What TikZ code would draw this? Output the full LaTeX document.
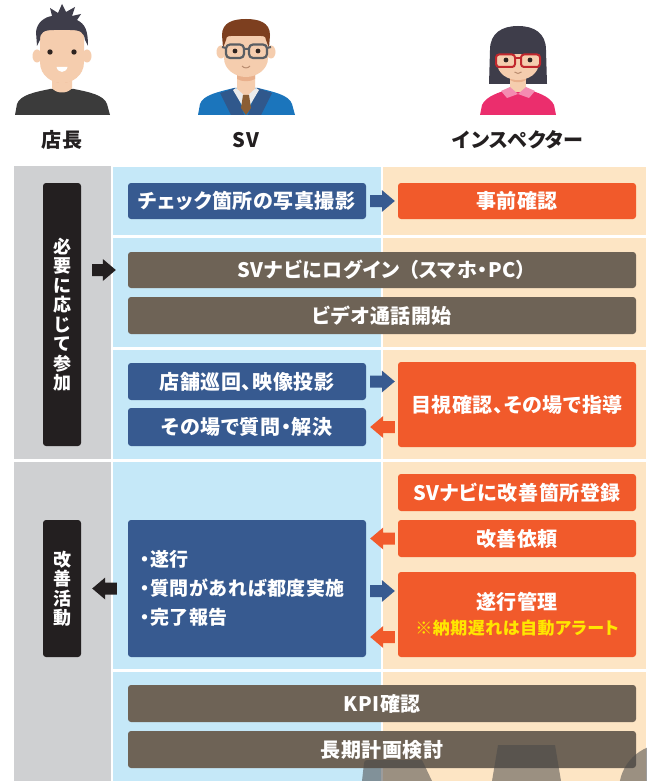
\documentclass[tikz,border=0pt]{standalone}
\usepackage{fontspec}
\setmainfont{Noto Sans CJK JP}[BoldFont={Noto Sans CJK JP Black}, RawFeature=+palt, LetterSpace=3]
\usetikzlibrary{calc}

\definecolor{colgray}{HTML}{CFD0D2}
\definecolor{colblue}{HTML}{C5E8F8}
\definecolor{colbeige}{HTML}{FDE5C4}
\definecolor{svblue}{HTML}{375A90}
\definecolor{inorange}{HTML}{F15A2B}
\definecolor{sharebrown}{HTML}{6E6356}
\definecolor{labelblack}{HTML}{231F20}
\definecolor{alertyellow}{HTML}{FFE600}
\definecolor{shadegray}{HTML}{494949}
\definecolor{skin}{HTML}{F5CDAE}
\definecolor{skinshade}{HTML}{E9B08C}
\definecolor{hairdark}{HTML}{3E3D4A}
\definecolor{hairbrown}{HTML}{7D3F1F}
\definecolor{shirtdark}{HTML}{3B3B3B}
\definecolor{suitblue}{HTML}{1B75BC}
\definecolor{lapelblue}{HTML}{30588C}
\definecolor{tiebrown}{HTML}{8B5E34}
\definecolor{framegray}{HTML}{5A5E63}
\definecolor{framered}{HTML}{C1272D}
\definecolor{blousepink}{HTML}{EB2E6D}
\definecolor{collarpink}{HTML}{F48BB1}
\definecolor{eyedark}{HTML}{2E2420}

\tikzset{
  box/.style={rounded corners=3pt, inner sep=0pt, text=white,
    font=\bfseries\fontsize{20}{22}\selectfont},
  svbox/.style={box, fill=svblue},
  inbox/.style={box, fill=inorange},
  sharebox/.style={box, fill=sharebrown},
  vlabel/.style={rounded corners=3pt, inner sep=0pt, fill=labelblack, text=white,
    minimum width=38pt, align=center, font=\bfseries\fontsize{18}{19.5}\selectfont},
  role/.style={text=labelblack, font=\bfseries\fontsize{20}{24}\selectfont},
  shade/.style={fill=shadegray, fill opacity=0.54},
}

% horizontal block arrow from #2 to #3
\newcommand\flowarrow[3]{%
  \coordinate (fa-s) at #2;
  \coordinate (fa-e) at #3;
  \coordinate (fa-h) at ($(fa-e)!13pt!(fa-s)$);
  \fill[#1] ($(fa-s)!6pt!90:(fa-e)$) -- ($(fa-h)!6pt!-90:(fa-s)$)
    -- ($(fa-h)!11pt!-90:(fa-s)$) -- (fa-e) -- ($(fa-h)!11pt!90:(fa-s)$)
    -- ($(fa-h)!6pt!90:(fa-s)$) -- ($(fa-s)!6pt!-90:(fa-e)$) -- cycle;
}

\begin{document}
\begin{tikzpicture}[x=1pt,y=-1pt]
\useasboundingbox (0,0) rectangle (646,781);
\fill[white] (0,0) rectangle (646,781);

% ---------- avatars ----------
% store manager
\fill[shirtdark] (15,115) -- (17,104) .. controls (20,95) and (35,92) .. (50,89) -- (74,89)
  .. controls (89,92) and (104,95) .. (107,104) -- (110,115) -- cycle;
\fill[skin] (52,70) -- (52,88) .. controls (56,94) and (68,94) .. (72,88) -- (72,70) -- cycle;
\fill[skinshade] (52,74) -- (52,80) .. controls (58,84) and (66,84) .. (72,80) -- (72,74) -- cycle;
\fill[skin] (37,56) ellipse (4.5 and 6.5);
\fill[skin] (87,56) ellipse (4.5 and 6.5);
\fill[skin] (40,35) -- (40,62) .. controls (40,76) and (52,83) .. (62,83)
  .. controls (72,83) and (84,76) .. (84,62) -- (84,35)
  .. controls (84,28) and (78,26) .. (62,26) .. controls (46,26) and (40,28) .. (40,35) -- cycle;
\fill[hairdark] (37,46) -- (36,32) .. controls (37,22) and (45,17) .. (52,16) -- (50,8) -- (58,13)
  -- (62,4) -- (66,12) -- (75,7) -- (72,16) -- (81,14) -- (77,20)
  .. controls (85,24) and (88,30) .. (88,46) -- (85,40) .. controls (84,32) and (80,30) .. (70,30)
  -- (54,30) .. controls (44,30) and (40,32) .. (40,40) -- cycle;
\fill[eyedark] (50,52) circle (2.7);
\fill[eyedark] (74,52) circle (2.7);
\fill[white] (56.5,67) .. controls (58,73.5) and (66,73.5) .. (67.5,67) -- cycle;

% supervisor
\fill[suitblue] (198,115) -- (200,104) .. controls (203,95) and (218,92) .. (234,88) -- (258,88)
  .. controls (274,92) and (289,95) .. (292,104) -- (295,115) -- cycle;
\fill[lapelblue] (220,93) -- (235,88) -- (244,115) -- (231,115) -- cycle;
\fill[lapelblue] (272,93) -- (257,88) -- (248,115) -- (261,115) -- cycle;
\fill[skin] (237,70) -- (237,90) -- (246,97) -- (255,90) -- (255,70) -- cycle;
\fill[skinshade] (237,72) -- (237,79) .. controls (242,82) and (250,82) .. (255,79) -- (255,72) -- cycle;
\fill[black!8] (236,88) -- (246,97) -- (256,88) -- (259,90) -- (246,112) -- (233,90) -- cycle;
\fill[tiebrown] (243,95) -- (249,95) -- (251,108) -- (246,115) -- (241,108) -- cycle;
\fill[skin] (221,52) ellipse (4.5 and 6.5);
\fill[skin] (271,52) ellipse (4.5 and 6.5);
\fill[skin] (224,38) -- (224,58) .. controls (224,70) and (236,77) .. (246,77)
  .. controls (256,77) and (268,70) .. (268,58) -- (268,38)
  .. controls (268,30) and (260,28) .. (246,28) .. controls (232,28) and (224,30) .. (224,38) -- cycle;
\fill[hairbrown] (223,48) -- (222,35) .. controls (222,22) and (234,19) .. (246,19)
  .. controls (258,19) and (270,22) .. (270,35) -- (269,48) -- (266,40)
  .. controls (266,35) and (262,36) .. (255,36) -- (237,36)
  .. controls (230,36) and (226,35) .. (226,40) -- cycle;
\draw[framegray, line width=2.2pt, rounded corners=4pt] (226,44.5) rectangle (244,58);
\draw[framegray, line width=2.2pt, rounded corners=4pt] (249,44.5) rectangle (267,58);
\draw[framegray, line width=2pt] (244,49) -- (249,49) (226,48) -- (222,47) (267,48) -- (271,47);
\fill[eyedark] (235,51) circle (2.4);
\fill[eyedark] (258,51) circle (2.4);
\draw[skinshade!80!black, line width=1pt] (242,66) .. controls (244,68.5) and (248,68.5) .. (250,66);

% inspector
\fill[hairdark] (489,84) -- (490,50) .. controls (490,33) and (502,26) .. (518,26)
  .. controls (534,26) and (546,33) .. (546,50) -- (547,84) -- cycle;
\fill[blousepink] (480,115) -- (482,105) .. controls (486,96) and (500,92) .. (510,89) -- (526,89)
  .. controls (536,92) and (550,96) .. (554,105) -- (556,115) -- cycle;
\fill[skin] (510,72) rectangle (526,92);
\fill[skinshade] (510,74) -- (510,80) .. controls (514,83) and (522,83) .. (526,80) -- (526,74) -- cycle;
\fill[collarpink] (501,91) -- (510,87) -- (518,94) -- (526,87) -- (535,91) -- (529,98) -- (518,94)
  -- (507,98) -- cycle;
\fill[skin] (497,48) -- (497,62) .. controls (497,74) and (508,80) .. (518,80)
  .. controls (528,80) and (539,74) .. (539,62) -- (539,48) -- cycle;
\fill[hairdark] (494,54) .. controls (494,36) and (505,30) .. (518,30)
  .. controls (531,30) and (542,36) .. (542,54) -- cycle;
\fill[eyedark] (506,60) circle (2.4);
\fill[eyedark] (530,60) circle (2.4);
\draw[framered, line width=2pt, rounded corners=3pt] (496,54.5) rectangle (515,67);
\draw[framered, line width=2pt, rounded corners=3pt] (521,54.5) rectangle (540,67);
\draw[framered, line width=2pt] (515,58) -- (521,58);
\draw[skinshade!80!black, line width=1pt] (514.5,72) .. controls (516.5,74) and (519.5,74) .. (521.5,72);

% ---------- role names ----------
\node[role] (store) at (62,140) {店長};
\node[role] (sv) at (246,140) {SV};
\node[role] (insp) at (518,140) {インスペクター};

% ---------- lanes ----------
\fill[colgray] (14,166) rectangle (111,459);
\fill[colgray] (14,462) rectangle (111,781);
\foreach \top/\bot in {167/235, 238/347, 350/459, 462/669, 672/781}{
  \fill[colblue] (113,\top) rectangle (381,\bot);
  \fill[colbeige] (383,\top) rectangle (646,\bot);
}

% ---------- phase labels ----------
\node[vlabel, minimum height=263pt] (join) at (62,314.5) {必\\要\\に\\応\\じ\\て\\参\\加};
\node[vlabel, minimum height=137pt] (improve) at (62,588.5) {改\\善\\活\\動};

% ---------- steps ----------
\node[svbox, minimum width=238pt, minimum height=36pt] (shoot) at (247,201) {チェック箇所の写真撮影};
\node[inbox, minimum width=238pt, minimum height=36pt] (precheck) at (517,201) {事前確認};

\node[sharebox, minimum width=508pt, minimum height=36pt] (login) at (382,270)
  {SVナビにログイン\hspace{0.45em}（スマホ・PC）};
\node[sharebox, minimum width=508pt, minimum height=37pt] (video) at (382,315.5) {ビデオ通話開始};

\node[svbox, minimum width=238pt, minimum height=37pt] (tour) at (247,381.5) {店舗巡回、映像投影};
\node[svbox, minimum width=238pt, minimum height=38pt] (qa) at (247,427) {その場で質問・解決};
\node[inbox, minimum width=238pt, minimum height=85pt] (visual) at (517,404.5) {目視確認、その場で指導};

\node[inbox, minimum width=238pt, minimum height=37pt] (register) at (517,492.5) {SVナビに改善箇所登録};
\node[inbox, minimum width=238pt, minimum height=37pt] (request) at (517,538.5) {改善依頼};
\node[inbox, minimum width=238pt, minimum height=85pt, align=center] (manage) at (517,614.5)
  {遂行管理\\[3pt]{\color{alertyellow}\fontsize{17}{20}\selectfont ※納期遅れは自動アラート}};
\node[svbox, minimum width=238pt, minimum height=137pt, inner xsep=12pt, text width=214pt,
  align=left, font=\bfseries\fontsize{19}{29}\selectfont] (exec) at (247,588.5)
  {・遂行\\・質問があれば都度実施\\・完了報告};

\node[sharebox, minimum width=508pt, minimum height=37pt] (kpi) at (382,703.5) {KPI確認};
\node[sharebox, minimum width=508pt, minimum height=37pt] (plan) at (382,749.5) {長期計画検討};

% ---------- block arrows ----------
\flowarrow{svblue}{($(shoot.east)+(4,0)$)}{($(precheck.west)+(-3,0)$)}
\flowarrow{labelblack}{($(join.east |- login)+(11,0)$)}{($(login.west)+(-12,0)$)}
\flowarrow{svblue}{($(tour.east)+(4,0)$)}{($(visual.west |- tour)+(-3,0)$)}
\flowarrow{inorange}{($(visual.west |- qa)+(-3,0)$)}{($(qa.east)+(4,0)$)}
\flowarrow{inorange}{($(request.west)+(-3,0)$)}{($(exec.east |- request)+(4,0)$)}
\flowarrow{svblue}{($(exec.east)+(4,2.5)$)}{($(manage.west |- exec)+(-3,2.5)$)}
\coordinate (alertrow) at ($(manage.west)+(-3,22.5)$);
\flowarrow{inorange}{(alertrow)}{($(exec.east |- alertrow)+(4,0)$)}
\flowarrow{labelblack}{($(exec.west)+(-11,0)$)}{($(improve.east)+(11,0)$)}

% ---------- translucent shapes along the lower edge ----------
\fill[shade] (362,781) -- (364,763) .. controls (364,761) and (365,760) .. (367,760)
  -- (422,760) -- (432,781) -- cycle;
\fill[shade] (492,781) -- (498,745) -- (555,745) -- (561,781) -- cycle;
\fill[shade] (665,790) circle (46);
\end{tikzpicture}
\end{document}
